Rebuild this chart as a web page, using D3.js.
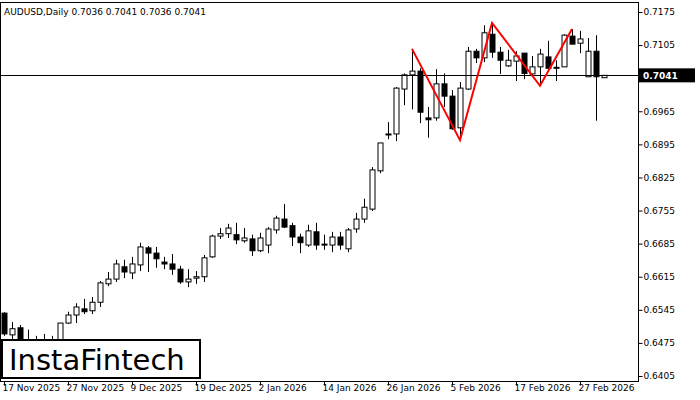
<!DOCTYPE html>
<html>
<head>
<meta charset="utf-8">
<script src="https://cdn.jsdelivr.net/npm/d3@7"></script>
<style>
  body { margin: 0; background: #fff; }
  text { font-family: "DejaVu Sans", sans-serif; }
</style>
</head>
<body>
<div id="chart"></div>
<script>
// candle values (index = trading day)
const opens  = [0.6538,0.6492,0.6507,0.6481,0.6477,0.6471,0.6481,0.6460,0.6517,0.6534,
                0.6547,0.6543,0.6561,0.6600,0.6610,0.6636,0.6623,0.6640,0.6676,0.6665,
                0.6646,0.6642,0.6631,0.6604,0.6612,0.6615,0.6657,0.6701,0.6706,0.6704,
                0.6691,0.6695,0.6670,0.6682,0.6714,0.6737,0.6723,0.6699,0.6682,0.6710,
                0.6684,0.6682,0.6699,0.6674,0.6716,0.6737,0.6758,0.6839,0.6915,0.6917,
                0.7012,0.7042,0.7050,0.6951,0.6951,0.7023,0.6997,0.6930,0.7012,0.7092,
                0.7078,0.7128,0.7090,0.7061,0.7071,0.7088,0.7044,0.7059,0.7080,0.7056,
                0.7059,0.7124,0.7109,0.7038,0.7092,0.7036];
const highs  = [0.6540,0.6519,0.6513,0.6503,0.6490,0.6494,0.6490,0.6456,0.6541,0.6559,
                0.6568,0.6572,0.6606,0.6625,0.6651,0.6651,0.6657,0.6687,0.6680,0.6678,
                0.6657,0.6663,0.6638,0.6631,0.6627,0.6661,0.6704,0.6718,0.6727,0.6729,
                0.6718,0.6704,0.6708,0.6720,0.6744,0.6769,0.6729,0.6706,0.6725,0.6729,
                0.6704,0.6710,0.6710,0.6718,0.6750,0.6780,0.6847,0.6898,0.6942,0.7016,
                0.7045,0.7097,0.7056,0.6974,0.7054,0.7045,0.7010,0.7027,0.7101,0.7097,
                0.7147,0.7152,0.7101,0.7095,0.7092,0.7088,0.7082,0.7097,0.7114,0.7073,
                0.7128,0.7139,0.7135,0.7120,0.7126,0.7041];
const lows   = [0.6490,0.6481,0.6469,0.6460,0.6456,0.6460,0.6449,0.6460,0.6515,0.6517,
                0.6536,0.6536,0.6551,0.6595,0.6604,0.6612,0.6610,0.6627,0.6625,0.6634,
                0.6631,0.6619,0.6600,0.6593,0.6600,0.6604,0.6655,0.6695,0.6697,0.6684,
                0.6687,0.6659,0.6667,0.6665,0.6706,0.6718,0.6680,0.6665,0.6678,0.6672,
                0.6672,0.6667,0.6672,0.6667,0.6708,0.6729,0.6754,0.6834,0.6906,0.6902,
                0.6978,0.6969,0.6940,0.6909,0.6945,0.6974,0.6926,0.6904,0.7010,0.7067,
                0.7069,0.7078,0.7044,0.7059,0.7029,0.7033,0.7038,0.7019,0.7052,0.7029,
                0.7059,0.7107,0.7088,0.7038,0.6945,0.7036];
const closes = [0.6494,0.6505,0.6477,0.6477,0.6471,0.6481,0.6464,0.6517,0.6534,0.6551,
                0.6541,0.6561,0.6602,0.6610,0.6642,0.6625,0.6642,0.6678,0.6665,0.6653,
                0.6642,0.6631,0.6604,0.6610,0.6615,0.6655,0.6701,0.6706,0.6718,0.6693,
                0.6697,0.6670,0.6697,0.6716,0.6739,0.6720,0.6699,0.6687,0.6712,0.6682,
                0.6682,0.6699,0.6682,0.6714,0.6737,0.6762,0.6841,0.6898,0.6917,0.7014,
                0.7042,0.7050,0.6963,0.6947,0.7023,0.6997,0.6928,0.7014,0.7092,0.7078,
                0.7131,0.7090,0.7073,0.7073,0.7082,0.7045,0.7059,0.7086,0.7056,0.7058,
                0.7126,0.7107,0.7118,0.7092,0.7038,0.7041];

const dateIdx    = [0, 8, 16, 24, 32, 40, 48, 56, 64, 72];
const dateLabels = ["17 Nov 2025","27 Nov 2025","9 Dec 2025","19 Dec 2025","2 Jan 2026",
                    "14 Jan 2026","26 Jan 2026","5 Feb 2026","17 Feb 2026","27 Feb 2026"];
// 0.7035 sits under the last-price box, so it is left out
const priceTicks = [0.7175,0.7105,0.6965,0.6895,0.6825,0.6755,0.6685,0.6615,0.6545,0.6475,0.6405];
const lastPrice = 0.7041;

// pattern line: candle index + price
const patIdx   = [51, 57, 61, 67, 71];
const patPrice = [0.7097, 0.6904, 0.7152, 0.7019, 0.7139];

const W = 700, H = 400, plotR = 638, plotB = 381, plotT = 2;

const svg = d3.select("#chart").append("svg")
  .attr("width", W).attr("height", H);

const x = d3.scaleLinear().domain([-0.5, 79.25]).range([0, plotR]);
const y = d3.scaleLinear().domain([0.6405, 0.7175]).range([376, 12]);

// frame
svg.append("rect")
  .attr("x", 0.5).attr("y", plotT + 0.5)
  .attr("width", plotR).attr("height", plotB - plotT)
  .attr("fill", "none").attr("stroke", "#000");

// price axis
const yAxis = svg.append("g")
  .attr("transform", `translate(${plotR + 0.5},0)`)
  .call(d3.axisRight(y).tickValues(priceTicks).tickSize(4).tickFormat(d3.format(".4f")));
yAxis.select(".domain").remove();
yAxis.selectAll("text").attr("font-size", 9).attr("fill", "#000").attr("x", 5);

// date axis
const xAxis = svg.append("g")
  .attr("transform", `translate(0,${plotB + 0.5})`)
  .call(d3.axisBottom(x).tickValues(dateIdx).tickSize(4)
    .tickFormat((d, i) => dateLabels[i]));
xAxis.select(".domain").remove();
xAxis.selectAll("text").attr("font-size", 9).attr("fill", "#000")
  .attr("text-anchor", "start").attr("dx", -2).attr("y", 3);

// candles
const candles = opens.map((o, i) => ({ i, o, h: highs[i], l: lows[i], c: closes[i] }));
const g = svg.append("g");
g.selectAll("line.wick").data(candles).join("line")
  .attr("x1", d => Math.round(x(d.i)) + 0.5).attr("x2", d => Math.round(x(d.i)) + 0.5)
  .attr("y1", d => y(d.h)).attr("y2", d => y(d.l))
  .attr("stroke", "#000");
g.selectAll("rect.body").data(candles).join("rect")
  .attr("x", d => Math.round(x(d.i)) - 2)
  .attr("y", d => Math.min(y(d.o), y(d.c)))
  .attr("width", 5)
  .attr("height", d => Math.max(1, Math.abs(y(d.o) - y(d.c))))
  .attr("fill", d => d.c >= d.o ? "#fff" : "#000")
  .attr("stroke", "#000");

// last price line
svg.append("line")
  .attr("x1", 0).attr("x2", plotR)
  .attr("y1", Math.round(y(lastPrice)) + 0.5).attr("y2", Math.round(y(lastPrice)) + 0.5)
  .attr("stroke", "#000");
svg.append("rect")
  .attr("x", plotR + 1).attr("y", y(lastPrice) - 7)
  .attr("width", 56).attr("height", 14).attr("fill", "#000");
svg.append("text")
  .attr("x", plotR + 5).attr("y", y(lastPrice) + 4)
  .attr("font-size", 9).attr("fill", "#fff").attr("font-weight", "bold")
  .text(lastPrice.toFixed(4));

// pattern
svg.append("path")
  .datum(patIdx.map((d, i) => [d, patPrice[i]]))
  .attr("fill", "none").attr("stroke", "#ff0000").attr("stroke-width", 2)
  .attr("d", d3.line().x(d => x(d[0])).y(d => y(d[1])));

// title
svg.append("text")
  .attr("x", 4).attr("y", 15).attr("font-size", 9).attr("fill", "#000")
  .text("AUDUSD,Daily  0.7036 0.7041 0.7036 0.7041");

// logo
svg.append("rect")
  .attr("x", 2).attr("y", 340).attr("width", 198).attr("height", 38)
  .attr("fill", "#fff").attr("stroke", "#000").attr("stroke-width", 2);
svg.append("text")
  .attr("x", 9).attr("y", 370).attr("font-size", 29).attr("fill", "#000")
  .attr("font-family", "Roboto, sans-serif").attr("font-weight", 500)
  .text("InstaFintech");
</script>
</body>
</html>
